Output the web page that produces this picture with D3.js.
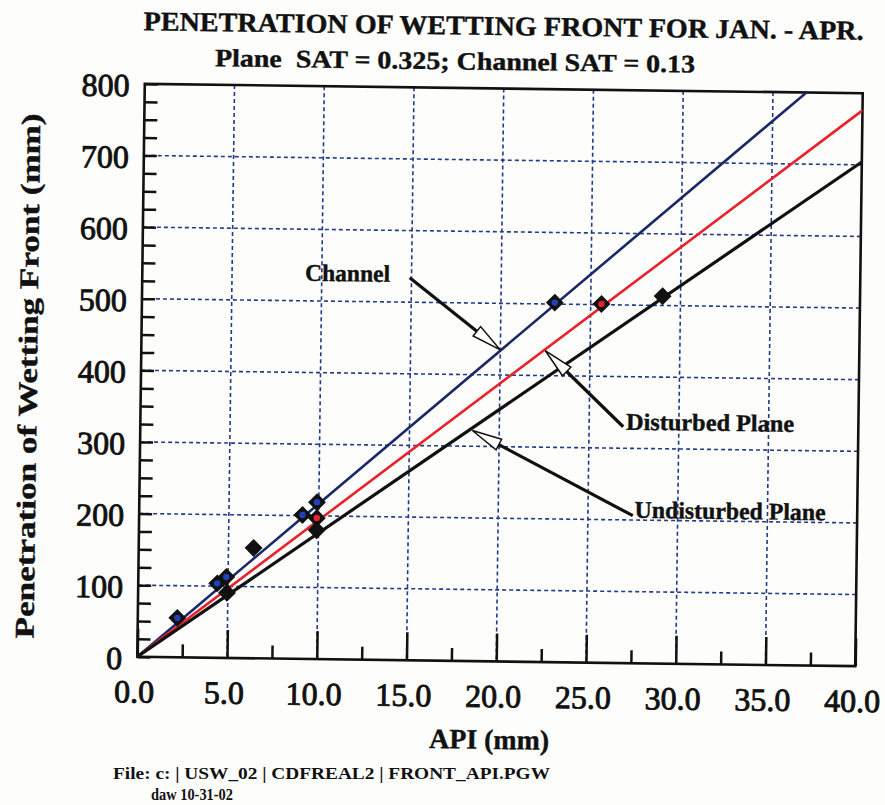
<!DOCTYPE html>
<html>
  <head>
    <title>Penetration of wetting front</title>
    <script src="https://d3js.org/d3.v7.min.js"></script>
    <style>
      body { margin: 0; background: #fdfdfb; }
      text { font-family: "Liberation Serif", "Times New Roman", serif; fill: #111; white-space: pre; }
      .title { font-weight: bold; text-anchor: middle; stroke: #111; stroke-width: 0.4px; }
      .axis .domain { display: none; }
      .axis .tick line { stroke: #111; stroke-width: 2.5px; }
      .axis .tick text { font-size: 32px; fill: #111; stroke: #111; stroke-width: 0.9px; }
      .grid { stroke: #223a8c; stroke-width: 1.6px; stroke-dasharray: 4 3; }
      .label { font-weight: bold; font-size: 24px; stroke: #111; stroke-width: 0.4px; }
    </style>
  </head>
  <body>
    <svg width="885" height="805"></svg>
    <script>
      // values
      const xTicks = [0, 5, 10, 15, 20, 25, 30, 35, 40];
      const yTicks = [0, 100, 200, 300, 400, 500, 600, 700, 800];

      const channelAPI = [2.2, 4.4, 4.9, 9.1, 9.9, 23.0];
      const channelPen = [55, 104, 113, 201, 219, 502];
      const disturbedAPI = [9.9, 25.6];
      const disturbedPen = [197, 501];
      const undisturbedAPI = [4.95, 6.4, 9.9, 29.0];
      const undisturbedPen = [91, 154, 180, 513];

      // fitted lines through the origin (mm of penetration per mm of API)
      const channelSlope = 21.7;
      const disturbedSlope = 19.4;
      const undisturbedSlope = 17.6;

      const series = [
        {name: "Channel", api: channelAPI, pen: channelPen, slope: channelSlope, color: "#1a2868", dot: "#2340b8"},
        {name: "Disturbed Plane", api: disturbedAPI, pen: disturbedPen, slope: disturbedSlope, color: "#e8222c", dot: "#e8222c"},
        {name: "Undisturbed Plane", api: undisturbedAPI, pen: undisturbedPen, slope: undisturbedSlope, color: "#111", dot: "#111"}
      ];

      // label anchor and arrow (from -> tip) in data units
      const notes = [
        {text: "Channel", at: [9.07, 528], len: 85, from: [14.9, 534], tip: [20.0, 435]},
        {text: "Disturbed Plane", at: [27.06, 326], len: 168, from: [26.9, 330], tip: [22.5, 435]},
        {text: "Undisturbed Plane", at: [27.6, 203], len: 191, from: [27.5, 206], tip: [18.5, 322]}
      ];

      const svg = d3.select("svg");
      const pLeft = 141, pRight = 859, pTop = 88.5, pBottom = 661.5;

      const x = d3.scaleLinear().domain([0, 40]).range([pLeft, pRight]);
      const y = d3.scaleLinear().domain([0, 800]).range([pBottom, pTop]);

      // the scan is tilted a little clockwise
      const g = svg.append("g").attr("transform", "rotate(0.75, 500, 375)");

      g.append("text").attr("class", "title")
        .attr("x", 499).attr("y", 35)
        .attr("font-size", 27)
        .attr("textLength", 720).attr("lengthAdjust", "spacingAndGlyphs")
        .text("PENETRATION OF WETTING FRONT FOR JAN. - APR.");
      g.append("text").attr("class", "title")
        .attr("x", 451).attr("y", 70)
        .attr("font-size", 25)
        .attr("textLength", 480).attr("lengthAdjust", "spacingAndGlyphs")
        .text("Plane  SAT = 0.325; Channel SAT = 0.13");

      g.append("defs").append("clipPath").attr("id", "plot")
        .append("rect")
          .attr("x", pLeft).attr("y", pTop)
          .attr("width", pRight - pLeft).attr("height", pBottom - pTop);

      // grid
      g.selectAll(".gx").data(xTicks.slice(1, -1)).enter().append("line")
        .attr("class", "grid")
        .attr("x1", d => x(d)).attr("x2", d => x(d))
        .attr("y1", pTop).attr("y2", pBottom);
      g.selectAll(".gy").data(yTicks.slice(1, -1)).enter().append("line")
        .attr("class", "grid")
        .attr("x1", pLeft).attr("x2", pRight)
        .attr("y1", d => y(d)).attr("y2", d => y(d));

      // axes
      g.append("g").attr("class", "axis")
        .attr("transform", `translate(${pLeft},0)`)
        .call(d3.axisLeft(y).tickValues(d3.range(0, 801, 25)).tickSize(-13).tickFormat(""));
      g.append("g").attr("class", "axis")
        .attr("transform", `translate(${pLeft},0)`)
        .call(d3.axisLeft(y).tickValues(yTicks).tickSize(0).tickPadding(15).tickFormat(d3.format("d")))
        .selectAll("text").attr("dy", "0.38em");

      g.append("g").attr("class", "axis")
        .attr("transform", `translate(0,${pBottom})`)
        .call(d3.axisBottom(x).tickValues(d3.range(2.5, 40, 5)).tickSize(-13).tickFormat(""));
      g.append("g").attr("class", "axis")
        .attr("transform", `translate(0,${pBottom})`)
        .call(d3.axisBottom(x).tickValues(xTicks).tickSize(-28).tickPadding(23).tickFormat(d3.format(".1f")))
        .selectAll("text").attr("dx", "-0.1em");

      g.append("rect")
        .attr("x", pLeft).attr("y", pTop)
        .attr("width", pRight - pLeft).attr("height", pBottom - pTop)
        .attr("fill", "none").attr("stroke", "#111").attr("stroke-width", 2.6);

      // fitted lines
      const line = d3.line().x(d => x(d[0])).y(d => y(d[1]));
      g.append("g").attr("clip-path", "url(#plot)")
        .selectAll("path").data(series).enter().append("path")
          .attr("d", s => line([[0, 0], [40, 40 * s.slope]]))
          .attr("fill", "none")
          .attr("stroke", s => s.color)
          .attr("stroke-width", s => s.name === "Undisturbed Plane" ? 3.2 : 2.6);

      // markers
      const diamond = d3.symbol().type(d3.symbolSquare).size(160);
      series.forEach(s => {
        const pts = s.api.map((a, i) => [a, s.pen[i]]);
        const m = g.append("g").selectAll("g").data(pts).enter().append("g")
          .attr("transform", d => `translate(${x(d[0])},${y(d[1])})`);
        m.append("path").attr("d", diamond).attr("transform", "rotate(45)").attr("fill", "#111");
        m.append("circle").attr("r", 3.2).attr("fill", s.dot);
      });

      // annotations
      notes.forEach(n => {
        const x0 = x(n.from[0]), y0 = y(n.from[1]);
        const x1 = x(n.tip[0]), y1 = y(n.tip[1]);
        const dx = x1 - x0, dy = y1 - y0, L = Math.hypot(dx, dy);
        const ux = dx / L, uy = dy / L, head = 30, w = 6;
        const bx = x1 - ux * head, by = y1 - uy * head;
        g.append("line")
          .attr("x1", x0).attr("y1", y0).attr("x2", bx).attr("y2", by)
          .attr("stroke", "#111").attr("stroke-width", 3.2);
        g.append("path")
          .attr("d", `M${x1},${y1}L${bx - uy * w},${by + ux * w}L${bx + uy * w},${by - ux * w}Z`)
          .attr("fill", "#fff").attr("stroke", "#111").attr("stroke-width", 1.5);
        g.append("text").attr("class", "label")
          .attr("x", x(n.at[0])).attr("y", y(n.at[1]))
          .attr("textLength", n.len).attr("lengthAdjust", "spacingAndGlyphs")
          .text(n.text);
      });

      // axis titles
      g.append("text").attr("class", "title")
        .attr("transform", "translate(37,382) rotate(-90)")
        .attr("font-size", 27)
        .attr("textLength", 525).attr("lengthAdjust", "spacingAndGlyphs")
        .text("Penetration of Wetting Front (mm)");
      g.append("text").attr("class", "title")
        .attr("x", 494).attr("y", 749)
        .attr("font-size", 28)
        .attr("textLength", 120).attr("lengthAdjust", "spacingAndGlyphs")
        .text("API (mm)");

      // file note
      svg.append("text")
        .attr("x", 113).attr("y", 779)
        .attr("font-size", 17).attr("font-weight", "bold")
        .attr("textLength", 437).attr("lengthAdjust", "spacingAndGlyphs")
        .text("File: c: | USW_02 | CDFREAL2 | FRONT_API.PGW");
      svg.append("text")
        .attr("x", 151).attr("y", 800)
        .attr("font-size", 17).attr("font-weight", "bold")
        .attr("textLength", 82).attr("lengthAdjust", "spacingAndGlyphs")
        .text("daw 10-31-02");
    </script>
  </body>
</html>
